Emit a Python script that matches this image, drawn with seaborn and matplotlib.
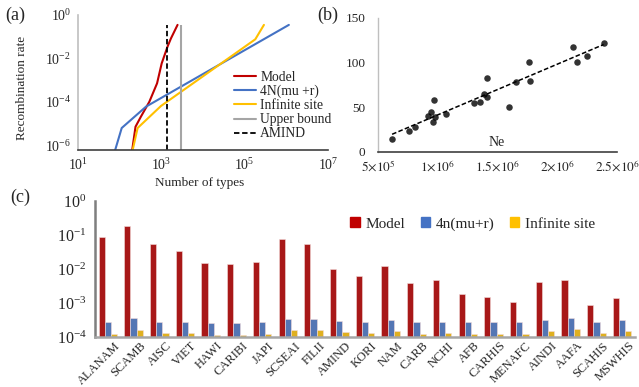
import numpy as np
import pandas as pd
import matplotlib
matplotlib.use("Agg")
import matplotlib.pyplot as plt
import matplotlib.transforms as mtransforms
from matplotlib.patches import Patch
from matplotlib.lines import Line2D
from matplotlib.ticker import LogFormatterSciNotation, NullLocator, FixedLocator
import seaborn as sns

# ---------------- data: panel (a) ----------------
model_types = [200, 240, 325, 515, 790, 1020, 1410, 1700, 2450]
model_rate = [6e-7, 7.1e-6, 2.1e-5, 1.0e-4, 7.1e-4, 5.9e-3, 0.035, 0.083, 0.35]
theta_types = [78, 112, 430, 1.15e6]
theta_rate = [6e-7, 6.2e-6, 6.0e-5, 0.35]
infsite_types = [205, 270, 980, 1.8e5, 2.9e5]
infsite_rate = [6e-7, 6.2e-6, 6.4e-5, 0.076, 0.35]
upper_bound = 2950
amind_types = 1365
vline_range = [6e-7, 0.35]

# ---------------- data: panel (b) ----------------
ne = [6.18e5, 7.58e5, 8.12e5, 9.21e5, 9.44e5, 9.72e5, 9.63e5, 9.75e5, 1.067e6,
      1.30e6, 1.35e6, 1.39e6, 1.41e6, 1.41e6, 1.593e6, 1.657e6, 1.764e6,
      1.775e6, 2.129e6, 2.163e6, 2.247e6, 2.388e6]
ne_value = [14.2, 23.6, 28.1, 40.5, 45.0, 58.5, 33.7, 39.4, 42.7, 54.7, 55.9,
            65.2, 61.1, 82.9, 49.9, 78.8, 100.5, 79.9, 117.4, 100.5, 108.0, 121.5]

# ---------------- data: panel (c) ----------------
populations = ["ALANAM", "SCAMB", "AISC", "VIET", "HAWI", "CARIBI", "JAPI",
               "SCSEAI", "FILII", "AMIND", "KORI", "NAM", "CARB", "NCHI",
               "AFB", "CARHIS", "MENAFC", "AINDI", "AAFA", "SCAHIS", "MSWHIS"]
model_vals = [0.085, 0.18, 0.055, 0.034, 0.015, 0.0136, 0.0164, 0.075, 0.055,
              0.010, 0.0064, 0.012, 0.0039, 0.0047, 0.00188, 0.00153, 0.00109,
              0.0041, 0.0047, 0.00088, 0.00137]
theta_vals = [2.67e-4, 3.66e-4, 2.85e-4, 2.85e-4, 2.5e-4, 2.5e-4, 2.67e-4,
              3.5e-4, 3.5e-4, 3.0e-4, 2.85e-4, 3.1e-4, 2.7e-4, 2.85e-4,
              2.67e-4, 2.67e-4, 2.67e-4, 3.1e-4, 3.74e-4, 2.85e-4, 3.1e-4]
infsite_vals = [1.21e-4, 1.65e-4, 1.31e-4, 1.31e-4, 1.13e-4, 1.13e-4, 1.21e-4,
                1.65e-4, 1.65e-4, 1.37e-4, 1.29e-4, 1.46e-4, 1.23e-4, 1.29e-4,
                1.21e-4, 1.21e-4, 1.21e-4, 1.46e-4, 1.76e-4, 1.34e-4, 1.46e-4]

RED, BLUE, YEL, GRAY = "#C00000", "#4472C4", "#FFC000", "#A5A5A5"

sns.set_theme(style="white")
plt.rcParams["font.family"] = ["Liberation Serif", "DejaVu Serif"]
plt.rcParams["mathtext.fontset"] = "stix"
plt.rcParams["axes.unicode_minus"] = True

W, H = 639, 387
fig = plt.figure(figsize=(W / 100, H / 100), dpi=100)


def box(l, t, r, b):
    return [l / W, 1 - b / H, (r - l) / W, (b - t) / H]


def fx(px):
    return px / W


def fy(py):
    return 1 - py / H


# ---------------- panel (a) ----------------
axa = fig.add_axes(box(78, 15, 328, 150))
df_a = pd.concat([
    pd.DataFrame({"types": model_types, "rate": model_rate, "series": "Model"}),
    pd.DataFrame({"types": theta_types, "rate": theta_rate, "series": "4N(mu +r)"}),
    pd.DataFrame({"types": infsite_types, "rate": infsite_rate, "series": "Infinite site"}),
])
sns.lineplot(data=df_a, x="types", y="rate", hue="series",
             palette={"Model": RED, "4N(mu +r)": BLUE, "Infinite site": YEL},
             estimator=None, sort=False, lw=1.5, legend=False, ax=axa)
axa.vlines([upper_bound], vline_range[0], vline_range[1], color=GRAY, lw=1.5)
axa.vlines([amind_types], vline_range[0], vline_range[1], color="black", lw=1.3,
           linestyles=(0, (3, 1.5)))
axa.set_xscale("log")
axa.set_yscale("log")
axa.set_xlim(10, 1e7)
axa.set_ylim(6e-7, 1)
axa.xaxis.set_major_locator(FixedLocator([1e1, 1e3, 1e5, 1e7]))
axa.yaxis.set_major_locator(FixedLocator([1e-6, 1e-4, 1e-2, 1e0]))
axa.xaxis.set_major_formatter(LogFormatterSciNotation())
axa.yaxis.set_major_formatter(LogFormatterSciNotation())
axa.xaxis.set_minor_locator(NullLocator())
axa.yaxis.set_minor_locator(NullLocator())
axa.set_xlabel("")
axa.set_ylabel("")
axa.tick_params(length=0, labelsize=10, pad=5)
for s in ["top", "right"]:
    axa.spines[s].set_visible(False)
axa.spines["left"].set_color("#BFBFBF")
axa.spines["bottom"].set_color("#404040")
axa.spines["left"].set_linewidth(1.2)
axa.spines["bottom"].set_linewidth(1.2)
handles_a = [Line2D([], [], color=RED, lw=1.5),
             Line2D([], [], color=BLUE, lw=1.5),
             Line2D([], [], color=YEL, lw=1.5),
             Line2D([], [], color=GRAY, lw=1.5),
             Line2D([], [], color="black", lw=1.3, ls=(0, (3, 1.5)))]
axa.legend(handles_a, ["Model", "4N(mu +r)", "Infinite site", "Upper bound", "AMIND"],
           loc="center", bbox_to_anchor=(0.82, 0.33), frameon=False,
           fontsize=9.8, labelspacing=0.08, handlelength=1.6, handletextpad=0.3,
           borderpad=0)
fig.text(fx(22), fy(88), "Recombination rate", rotation=90, ha="center",
         va="center", fontsize=9.5)
fig.text(fx(200), fy(183), "Number of types", ha="center", va="center", fontsize=9.5)

# ---------------- panel (b) ----------------
axb = fig.add_axes(box(378, 18, 617, 152))
df_b = pd.DataFrame({"Ne": ne, "value": ne_value})
sns.regplot(data=df_b, x="Ne", y="value", ci=None, ax=axb,
            scatter_kws={"s": 22, "color": "black", "linewidths": 0},
            line_kws={"color": "black", "lw": 1.1, "ls": (0, (3, 1.5))})
axb.set_xlim(5e5, 2.5e6)
axb.set_ylim(0, 150)
axb.set_xticks([5e5, 1e6, 1.5e6, 2e6, 2.5e6])
axb.set_xticklabels([r"$5{\times}10^{5}$", r"$1{\times}10^{6}$",
                     r"$1.5{\times}10^{6}$", r"$2{\times}10^{6}$",
                     r"$2.5{\times}10^{6}$"])
axb.set_yticks([0, 50, 100, 150])
axb.set_xlabel("")
axb.set_ylabel("")
axb.tick_params(length=0, labelsize=9.5, pad=5)
axb.tick_params(axis="y", pad=9)
for s in ["top", "right"]:
    axb.spines[s].set_visible(False)
axb.spines["left"].set_color("#BFBFBF")
axb.spines["bottom"].set_color("#404040")
axb.spines["left"].set_linewidth(1.0)
axb.spines["bottom"].set_linewidth(1.2)
fig.text(fx(497), fy(142), "Ne", ha="center", va="center", fontsize=10)

# ---------------- panel (c) ----------------
axc = fig.add_axes(box(95, 201, 635, 337))
df_c = pd.concat([
    pd.DataFrame({"pop": populations, "rate": model_vals, "method": "Model"}),
    pd.DataFrame({"pop": populations, "rate": theta_vals, "method": "4n(mu+r)"}),
    pd.DataFrame({"pop": populations, "rate": infsite_vals, "method": "Infinite site"}),
])
sns.barplot(data=df_c, x="pop", y="rate", hue="method",
            palette={"Model": RED, "4n(mu+r)": BLUE, "Infinite site": YEL},
            width=0.72, gap=0, legend=False, ax=axc,
            edgecolor="#F2DCDB", linewidth=0.4)
axc.set_yscale("log")
axc.set_ylim(1e-4, 1)
axc.set_xlim(-0.5, len(populations) - 0.5)
axc.yaxis.set_major_locator(FixedLocator([1e-4, 1e-3, 1e-2, 1e-1, 1e0]))
axc.yaxis.set_major_formatter(LogFormatterSciNotation())
axc.yaxis.set_minor_locator(NullLocator())
axc.set_xlabel("")
axc.set_ylabel("")
axc.tick_params(length=0, pad=2)
axc.tick_params(axis="y", labelsize=11.5, pad=6)
axc.tick_params(axis="x", labelsize=9)
shift = mtransforms.ScaledTranslation(0.06, 0, fig.dpi_scale_trans)
for lab in axc.get_xticklabels():
    lab.set_rotation(45)
    lab.set_ha("right")
    lab.set_rotation_mode("anchor")
    lab.set_transform(lab.get_transform() + shift)
for s in ["top", "right"]:
    axc.spines[s].set_visible(False)
axc.spines["left"].set_color("#7F7F7F")
axc.spines["bottom"].set_color("#A6A6A6")
axc.spines["left"].set_linewidth(1.8)
axc.spines["bottom"].set_linewidth(1.8)
handles_c = [Patch(color=RED), Patch(color=BLUE), Patch(color=YEL)]
axc.legend(handles_c, ["Model", "4n(mu+r)", "Infinite site"], ncol=3,
           loc="center", bbox_to_anchor=(0.70, 0.83), frameon=False,
           fontsize=11, handlelength=0.6, handleheight=0.6, handletextpad=0.4,
           columnspacing=1.0, borderpad=0)

# panel labels
fig.text(fx(15), fy(15), "(a)", ha="center", va="center", fontsize=13)
fig.text(fx(328), fy(15), "(b)", ha="center", va="center", fontsize=13)
fig.text(fx(20), fy(197), "(c)", ha="center", va="center", fontsize=13)

fig.savefig("out.png", dpi=100)
